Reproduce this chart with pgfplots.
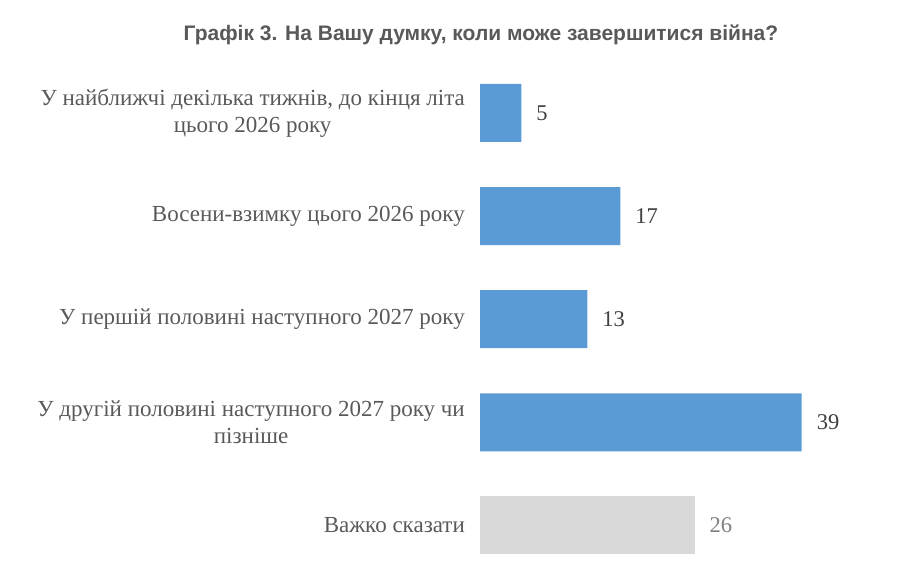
\documentclass[border=0pt]{standalone}
\usepackage{fontspec}
\setmainfont{Liberation Serif}
\newfontfamily\titlefont{Liberation Sans}
\usepackage{pgfplots}
\pgfplotsset{compat=1.18}
\definecolor{barblue}{HTML}{5B9BD5}
\definecolor{bargray}{HTML}{D9D9D9}
\definecolor{labgray}{HTML}{595959}
\definecolor{valdark}{HTML}{404040}
\definecolor{valgray}{HTML}{7F7F7F}
\begin{document}
\begin{tikzpicture}
\path[use as bounding box] (0,0) rectangle (919bp,582bp);
\begin{axis}[
  at={(480bp,5bp)}, anchor=south west,
  scale only axis, width=412.5bp, height=515.6bp,
  xbar, bar width=58bp, bar shift=0pt,
  xmin=0, xmax=50, ymin=-0.5, ymax=4.5, y dir=reverse,
  axis line style={draw=none}, xtick=\empty, ytick={0,1,2,3,4}, major tick length=0pt,
  /pgf/number format/assume math mode=true,
  yticklabels={{У найближчі декілька тижнів, до кінця літа\\цього 2026 року},{Восени-взимку цього 2026 року},{У першій половині наступного 2027 року},{У другій половині наступного 2027 року чи\\пізніше},{Важко сказати}},
  yticklabel style={align=center, font=\fontsize{23bp}{27bp}\selectfont, text=labgray, inner sep=0pt, xshift=-15bp},
  point meta=x,
  nodes near coords,
  nodes near coords style={anchor=west, inner sep=0pt, xshift=15bp, font=\fontsize{22.5bp}{26bp}\selectfont, text=valdark},
  clip=false,
]
\addplot[fill=barblue, draw=none] coordinates {(5,0) (17,1) (13,2) (39,3)};
\addplot[fill=bargray, draw=none, every node near coord/.append style={text=valgray}] coordinates {(26,4)};
\end{axis}
\node[font=\titlefont\bfseries\fontsize{21bp}{24bp}\selectfont, text=labgray, anchor=base] at (481bp,541bp) {Графік 3. На Вашу думку, коли може завершитися війна?};
\end{tikzpicture}
\end{document}
